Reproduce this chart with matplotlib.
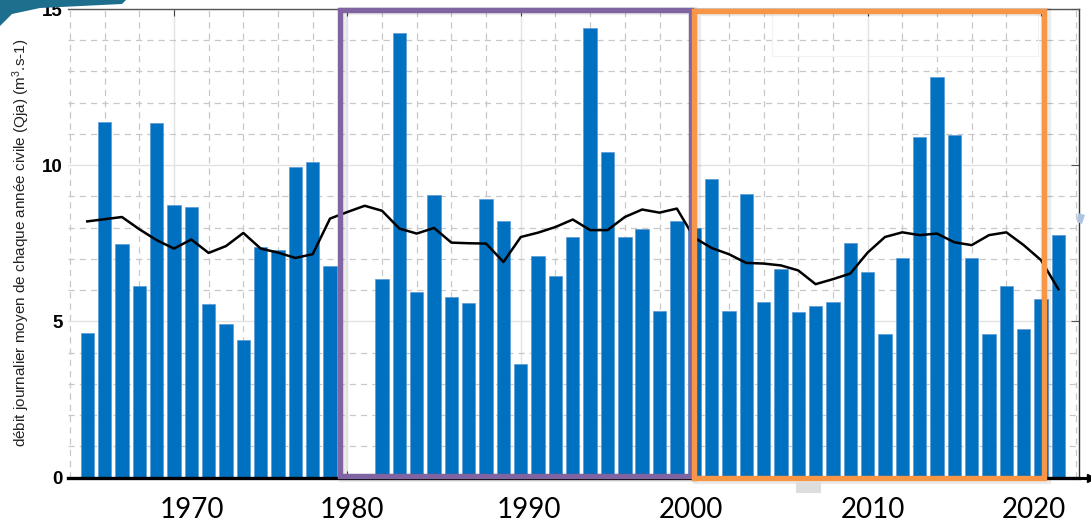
import numpy as np
import matplotlib
matplotlib.use("Agg")
import matplotlib.pyplot as plt
from matplotlib.patches import Rectangle, Polygon
from matplotlib.transforms import ScaledTranslation

plt.rcParams['mathtext.default'] = 'regular'

# annual mean daily flow (Qja), m3/s -- no data for 1980 and 1981
years = list(range(1965, 1980)) + list(range(1982, 2022))
debit = [4.63, 11.38, 7.47, 6.12, 11.35, 8.72, 8.66, 5.55, 4.91, 4.40, 7.38, 7.28, 9.93, 10.09, 6.76,
         6.34, 14.22, 5.93, 9.04, 5.77, 5.58, 8.93, 8.21, 3.64, 7.09, 6.44, 7.70, 14.40, 10.43, 7.70,
         7.96, 5.32, 8.21,
         7.98, 9.55, 5.32, 9.07, 5.61, 6.69, 5.30, 5.48, 5.61, 7.51, 6.59, 4.59, 7.04, 10.91, 12.81,
         10.97, 7.03, 4.59, 6.12, 4.75, 5.73, 7.75]

# moving average curve
ma_years = list(range(1965, 2022))
ma_vals = [8.20, 8.27, 8.34, 7.95, 7.60, 7.33, 7.62, 7.19, 7.41, 7.83, 7.33, 7.20, 7.03, 7.15, 8.29,
           8.50, 8.70, 8.54, 7.97, 7.81, 7.99, 7.52, 7.50, 7.49, 6.90, 7.70, 7.84, 8.02, 8.26, 7.92,
           7.92, 8.34, 8.58, 8.48, 8.61, 7.68, 7.35, 7.15, 6.87, 6.85, 6.79, 6.63, 6.19, 6.35, 6.53,
           7.20, 7.70, 7.85, 7.76, 7.81, 7.53, 7.44, 7.76, 7.85, 7.44, 6.96, 6.03]

decades = [1970, 1980, 1990, 2000, 2010, 2020]
decade_labels = ["1970", "1980", "1990", "2000", "2010", "2020"]

W, H = 1091, 527
fig = plt.figure(figsize=(W / 100, H / 100), dpi=100)
ax = fig.add_axes([68 / W, 1 - 477.5 / H, (1079 - 68) / W, (477.5 - 9) / H])

def px(x, y):
    return (x / W, 1 - y / H)

# grids
ax.set_xlim(1963.89, 2022.19)
ax.set_ylim(0, 15)
ax.set_xticks(decades)
ax.set_xticks(np.arange(1964, 2023, 2), minor=True)
ax.set_yticks([0, 5, 10, 15])
ax.set_yticks(np.arange(0, 16, 1), minor=True)
ax.grid(which='minor', color='#c8c8c8', linestyle=(0, (5, 4)), linewidth=0.9)
ax.grid(which='major', color='#e2e2e2', linestyle='-', linewidth=1.0)
ax.set_axisbelow(True)

ax.bar(years, debit, width=0.77, color='#0070c0', edgecolor='#5a9ad6', linewidth=0.5, zorder=2)
ax.plot(ma_years, ma_vals, color='black', linewidth=1.8, zorder=3)

# spines
ax.spines['left'].set_visible(False)
ax.spines['top'].set_color('#555555')
ax.spines['top'].set_linewidth(1.0)
ax.spines['right'].set_color('#333333')
ax.spines['right'].set_linewidth(1.0)
ax.spines['bottom'].set_color('black')
ax.spines['bottom'].set_linewidth(2.4)
ax.spines['bottom'].set_zorder(4)

ax.tick_params(axis='x', which='major', direction='in', length=5, color='#444444',
               top=True, bottom=True, labelsize=20, pad=14)
ax.tick_params(axis='x', which='minor', length=0)
ax.tick_params(axis='y', which='minor', length=0)
ax.yaxis.set_tick_params(which='major', right=True, direction='in', length=6, color='#555555', pad=4)
ax.tick_params(axis='y', which='major', left=False)
ax.set_yticklabels(["0", "5", "10", "15"], fontsize=13.5, fontweight='bold', family='Liberation Sans')
ax.set_xticklabels(decade_labels, family='Lato')
label_shift = [18, 5, 8, -3, 5, -7]
for lab, dx in zip(ax.get_xticklabels(), label_shift):
    lab.set_transform(lab.get_transform() + ScaledTranslation(dx / 100, 0, fig.dpi_scale_trans))

ax.set_ylabel(r"débit journalier moyen de chaque année civile (Qja) (m$^{3}$.s-1)",
              fontsize=11, family='Liberation Sans', color='#222222')
ax.yaxis.set_label_coords(-0.036, 0.5)

# arrow at the end of the x axis
ax.plot([1.0, 1.0115], [0, 0], transform=ax.transAxes, color='black', lw=2.2, clip_on=False, zorder=5)
ax.plot([1.0115], [0], transform=ax.transAxes, marker='>', color='black', markersize=6,
        clip_on=False, zorder=5)

# faint legend frame inside the orange box
ax.add_patch(Rectangle((2004.5, 13.5), 15.3, 1.4, fill=False, edgecolor='#f2f2f2', lw=0.8, zorder=1))

# highlighted periods (overlay boxes with soft shadow)
for (x0, x1, y0, y1, col) in [(1979.57, 1999.79, 0.05, 14.98, '#8064a2'),
                              (2000.0, 2020.2, -0.02, 14.94, '#f79646')]:
    sh = Rectangle((x0 + 0.15, y0 - 0.05), x1 - x0, y1 - y0, fill=False, edgecolor='#000000',
                   alpha=0.08, lw=6, clip_on=False, zorder=5)
    ax.add_patch(sh)
    ax.add_patch(Rectangle((x0, y0), x1 - x0, y1 - y0, fill=False, edgecolor=col, lw=3.9,
                           clip_on=False, zorder=6))

# slide decorations
fig.add_artist(Polygon([px(0, 0), px(126, 0), px(122, 4), px(40, 8), px(12, 14), px(0, 26)],
                       closed=True, facecolor='#1e6e8e', edgecolor='none'))
fig.add_artist(Polygon([px(1078, 213), px(1085, 215), px(1082, 224), px(1077, 222)],
                       closed=True, facecolor='#aac4e2', edgecolor='none'))
fig.add_artist(Rectangle(px(796, 493), 25 / W, 11 / H, facecolor='#dddddd', edgecolor='none'))

fig.savefig("out.png", dpi=100)
